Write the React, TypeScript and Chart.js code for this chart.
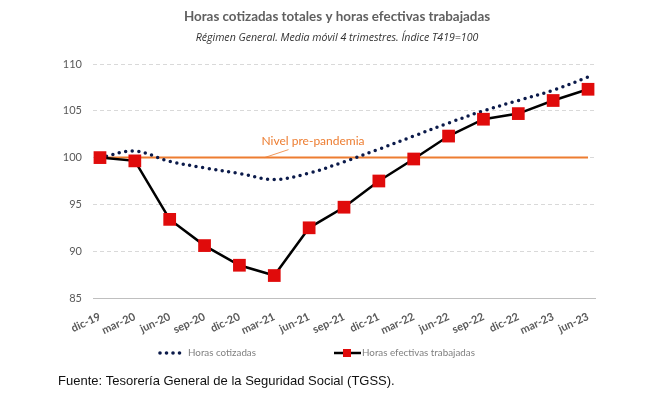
import React, { useEffect, useRef } from "react";
import { Chart, registerables } from "chart.js";

Chart.register(...registerables);

const categories = ["dic-19", "mar-20", "jun-20", "sep-20", "dic-20", "mar-21", "jun-21", "sep-21", "dic-21", "mar-22", "jun-22", "sep-22", "dic-22", "mar-23", "jun-23"];
const horasCotizadas = [100, 100.7, 99.6, 98.9, 98.3, 97.65, 98.35, 99.55, 100.9, 102.3, 103.7, 105.0, 106.1, 107.2, 108.6];
const horasEfectivas = [100, 99.65, 93.4, 90.6, 88.5, 87.4, 92.5, 94.7, 97.5, 99.85, 102.3, 104.1, 104.7, 106.1, 107.3];
const nivelPrePandemia = [100, 100, 100, 100, 100, 100, 100, 100, 100, 100, 100, 100, 100, 100, 100];
const yMin = 85;
const yMax = 110;
const yStep = 5;

const TITLE = "Horas cotizadas totales y horas efectivas trabajadas";
const SUBTITLE = "Régimen General. Media móvil 4 trimestres. Índice T419=100";
const FOOTER = "Fuente: Tesorería General de la Seguridad Social (TGSS).";
const ANNOT = "Nivel pre-pandemia";
const LEG1 = "Horas cotizadas";
const LEG2 = "Horas efectivas trabajadas";

const NAVY = "#0b1a4a";
const RED = "#e00b0b";
const ORANGE = "#ed7d31";

const decorPlugin = {
  id: "decor",
  afterDraw(chart: any) {
    const ctx = chart.ctx;
    const xs = chart.scales.x;
    const ys = chart.scales.y;
    ctx.save();
    // title
    ctx.textAlign = "center";
    ctx.textBaseline = "middle";
    ctx.fillStyle = "#606060";
    ctx.font = "bold 13.4px Lato";
    ctx.fillText(TITLE, 337, 17);
    ctx.fillStyle = "#333333";
    ctx.font = "italic 10.6px 'Open Sans'";
    ctx.fillText(SUBTITLE, 337, 38);

    // annotation
    const ax = xs.getPixelForValue(4.72);
    const ay = ys.getPixelForValue(100);
    ctx.strokeStyle = ORANGE;
    ctx.lineWidth = 0.8;
    ctx.beginPath();
    ctx.moveTo(ax, ay);
    ctx.lineTo(ax + 24, ay - 8);
    ctx.stroke();
    ctx.fillStyle = ORANGE;
    ctx.textAlign = "left";
    ctx.font = "12px Lato";
    ctx.fillText(ANNOT, ax - 3, ay - 16);

    // legend
    const ly = 353;
    ctx.fillStyle = NAVY;
    for (let i = 0; i < 4; i++) {
      ctx.beginPath();
      ctx.arc(160 + i * 6.5, ly, 1.8, 0, Math.PI * 2);
      ctx.fill();
    }
    ctx.fillStyle = "#808080";
    ctx.font = "9.8px Lato";
    ctx.fillText(LEG1, 188, ly);
    ctx.strokeStyle = "#000";
    ctx.lineWidth = 2.5;
    ctx.beginPath();
    ctx.moveTo(334, ly);
    ctx.lineTo(361, ly);
    ctx.stroke();
    ctx.fillStyle = RED;
    ctx.fillRect(343, ly - 4, 8, 8);
    ctx.fillStyle = "#808080";
    ctx.fillText(LEG2, 362, ly);

    // footer
    ctx.fillStyle = "#111";
    ctx.font = "13px 'Liberation Sans'";
    ctx.fillText(FOOTER, 58, 381);
    ctx.restore();
  },
};

export default function App() {
  const ref = useRef<HTMLCanvasElement>(null);
  useEffect(() => {
    if (!ref.current) return;
    const chart = new Chart(ref.current, {
      type: "line",
      data: {
        datasets: [
          {
            label: LEG2,
            data: horasEfectivas.map((v, i) => ({ x: i, y: v })),
            borderColor: "#000",
            borderWidth: 2.5,
            backgroundColor: RED,
            pointStyle: "rect",
            pointRadius: 9,
            pointBorderColor: RED,
            pointBackgroundColor: RED,
            pointBorderWidth: 0,
            tension: 0,
          },
          {
            label: LEG1,
            data: horasCotizadas.map((v, i) => ({ x: i, y: v })),
            borderColor: NAVY,
            borderWidth: 3.5,
            borderDash: [0, 6.6],
            borderCapStyle: "round",
            pointRadius: 0,
            tension: 0.35,
          },
          {
            label: ANNOT,
            data: nivelPrePandemia.map((v, i) => ({ x: i, y: v })),
            borderColor: ORANGE,
            borderWidth: 2,
            pointRadius: 0,
            tension: 0,
          },
        ],
      } as any,
      options: {
        responsive: false,
        animation: false,
        layout: { padding: { top: 64, right: 55, left: 0, bottom: 0 } },
        plugins: { legend: { display: false }, tooltip: { enabled: false }, title: { display: false } },
        scales: {
          x: {
            type: "linear",
            min: -0.2,
            max: 14.2,
            afterFit: (s: any) => {
              s.height = 101;
            },
            grid: { display: false },
            border: { display: true, color: "#bfbfbf", width: 1 },
            ticks: {
              stepSize: 1,
              includeBounds: false,
              autoSkip: false,
              minRotation: 25,
              maxRotation: 25,
              padding: 4,
              color: "#595959",
              font: { family: "Lato", size: 11, weight: "bold" },
              callback: (v: any) => (Number.isInteger(v) ? categories[v] : ""),
            },
          },
          y: {
            min: yMin,
            max: yMax,
            afterFit: (s: any) => {
              s.width = 93;
            },
            grid: {
              color: (c: any) => (c.tick && c.tick.value === yMin ? "rgba(0,0,0,0)" : "#d9d9d9"),
              lineWidth: 1,
              drawTicks: false,
            },
            border: { display: false, dash: [4, 3] },
            ticks: {
              stepSize: yStep,
              padding: 11,
              color: "#595959",
              font: { family: "Lato", size: 11 },
            },
          },
        },
      } as any,
      plugins: [decorPlugin],
    });
    return () => chart.destroy();
  }, []);
  return (
    <div style={{ position: "absolute", left: 0, top: 0, width: 650, height: 399, background: "#fff" }}>
      <canvas ref={ref} width={650} height={399} />
    </div>
  );
}
